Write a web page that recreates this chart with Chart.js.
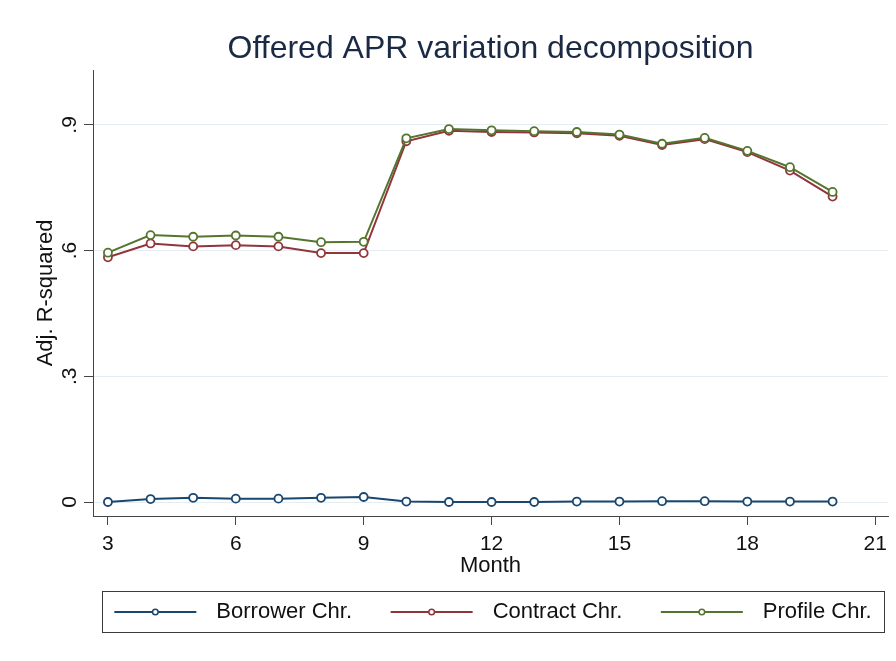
<!DOCTYPE html>
<html>
<head>
<meta charset="utf-8">
<script src="https://cdn.jsdelivr.net/npm/chart.js@4/dist/chart.umd.min.js"></script>
<style>
  html, body { margin: 0; padding: 0; background: #ffffff; }
  #wrap { width: 896px; height: 661px; }
</style>
</head>
<body>
<div id="wrap"><canvas id="c" width="896" height="661"></canvas></div>
<script>
// ---- data ----
const months = [3, 4, 5, 6, 7, 8, 9, 10, 11, 12, 13, 14, 15, 16, 17, 18, 19, 20];
const borrowerChr = [0.000, 0.007, 0.010, 0.008, 0.008, 0.010, 0.012, 0.001, 0.000, 0.000, 0.000, 0.001, 0.001, 0.002, 0.002, 0.001, 0.001, 0.001];
const contractChr = [0.584, 0.617, 0.610, 0.613, 0.610, 0.594, 0.594, 0.861, 0.886, 0.883, 0.882, 0.880, 0.874, 0.852, 0.866, 0.835, 0.791, 0.729];
const profileChr  = [0.595, 0.637, 0.633, 0.636, 0.633, 0.620, 0.621, 0.868, 0.890, 0.887, 0.885, 0.883, 0.877, 0.855, 0.869, 0.838, 0.799, 0.740];
const seriesLabels = ['Borrower Chr.', 'Contract Chr.', 'Profile Chr.'];
const xTickValues = [3, 6, 9, 12, 15, 18, 21];
const yTickValues = [0, 0.3, 0.6, 0.9];
const yTickLabels = ['0', '.3', '.6', '.9'];
const chartTitle = 'Offered APR variation decomposition';
const xTitle = 'Month';
const yTitle = 'Adj. R-squared';

// ---- styles ----
const FONT = '"Liberation Sans", Arial, Helvetica, sans-serif';
const colors = ['#1a476f', '#90353b', '#55752f'];
const gridColor = '#e6edf2';
const axisColor = '#454545';
const textColor = '#111111';

function toPoints(values) {
  return months.map((m, i) => ({ x: m, y: values[i] }));
}
const seriesValues = [borrowerChr, contractChr, profileChr];
const drawOrder = [2, 1, 0];

const datasets = seriesValues.map((vals, i) => ({
  label: seriesLabels[i],
  data: toPoints(vals),
  borderColor: colors[i],
  backgroundColor: colors[i],
  borderWidth: 2,
  pointRadius: 4,
  pointHoverRadius: 4,
  pointBorderWidth: 1.8,
  pointBackgroundColor: '#ffffff',
  pointBorderColor: colors[i],
  tension: 0,
  order: drawOrder[i]
}));

// legend drawn inside a framed box below the axis (Stata style)
const boxLegend = {
  id: 'boxLegend',
  afterDraw(chart) {
    const ctx = chart.ctx;
    const ca = chart.chartArea;
    const left = ca.left + 9, right = ca.right - 4;
    const top = chart.height - 70, h = 41;
    ctx.save();
    ctx.strokeStyle = '#3a3a3a';
    ctx.lineWidth = 1;
    ctx.strokeRect(Math.round(left) + 0.5, Math.round(top) + 0.5, Math.round(right - left), h);
    ctx.font = '22px ' + FONT;
    const cy = top + h / 2 + 0.5;
    const keyLen = 82, keyGap = 20, itemGap = 38.6;
    const ds = chart.data.datasets;
    const widths = ds.map(d => ctx.measureText(d.label).width);
    const total = widths.reduce((a, b) => a + b, 0) + ds.length * (keyLen + keyGap) + (ds.length - 1) * itemGap;
    let x = (left + right) / 2 - total / 2;
    ds.forEach((d, i) => {
      ctx.strokeStyle = d.borderColor;
      ctx.lineWidth = 2;
      ctx.beginPath(); ctx.moveTo(x, cy); ctx.lineTo(x + keyLen, cy); ctx.stroke();
      ctx.beginPath(); ctx.arc(x + keyLen / 2, cy, 2.8, 0, Math.PI * 2);
      ctx.fillStyle = '#ffffff'; ctx.fill();
      ctx.lineWidth = 1.5; ctx.stroke();
      ctx.fillStyle = textColor;
      ctx.textBaseline = 'middle';
      ctx.textAlign = 'left';
      ctx.fillText(d.label, x + keyLen + keyGap, cy);
      x += keyLen + keyGap + widths[i] + itemGap;
    });
    ctx.restore();
  }
};

new Chart(document.getElementById('c'), {
  type: 'line',
  data: { datasets },
  plugins: [boxLegend],
  options: {
    responsive: false,
    animation: false,
    events: [],
    layout: { padding: { top: 0, left: 32.4, right: 8, bottom: 81.8 } },
    plugins: {
      legend: { display: false },
      tooltip: { enabled: false },
      title: {
        display: true,
        text: chartTitle,
        fullSize: false,
        color: '#1b2a44',
        font: { family: FONT, size: 32, weight: 'normal', lineHeight: 1.2 },
        padding: { top: 30.4, bottom: 1.2 }
      }
    },
    scales: {
      x: {
        type: 'linear',
        min: 2.65,
        max: 21.3,
        afterBuildTicks(scale) { scale.ticks = xTickValues.map(v => ({ value: v })); },
        ticks: {
          autoSkip: false,
          maxRotation: 0, minRotation: 0,
          padding: 6.4,
          color: textColor,
          font: { family: FONT, size: 21, lineHeight: 1.2 },
          callback: (v) => String(v)
        },
        grid: { drawOnChartArea: false, drawTicks: true, tickLength: 9, tickColor: axisColor, tickWidth: 1 },
        border: { display: true, color: axisColor, width: 1 },
        title: {
          display: true, text: xTitle, color: textColor,
          font: { family: FONT, size: 22, lineHeight: 1.2 },
          padding: { top: -10.2, bottom: 0 }
        }
      },
      y: {
        type: 'linear',
        min: -0.0334,
        max: 1.031,
        afterBuildTicks(scale) { scale.ticks = yTickValues.map(v => ({ value: v })); },
        ticks: {
          autoSkip: false,
          minRotation: 90, maxRotation: 90,
          crossAlign: 'center',
          padding: 5,
          color: textColor,
          font: { family: FONT, size: 21, lineHeight: 1.2 },
          callback: (v, i) => yTickLabels[i]
        },
        grid: { color: gridColor, lineWidth: 1, drawTicks: true, tickLength: 9, tickColor: axisColor, tickWidth: 1 },
        border: { display: true, color: axisColor, width: 1 },
        title: {
          display: true, text: yTitle, color: textColor,
          font: { family: FONT, size: 22, lineHeight: 1.2 },
          padding: { top: 0, bottom: -10 }
        }
      }
    }
  }
});
</script>
</body>
</html>
